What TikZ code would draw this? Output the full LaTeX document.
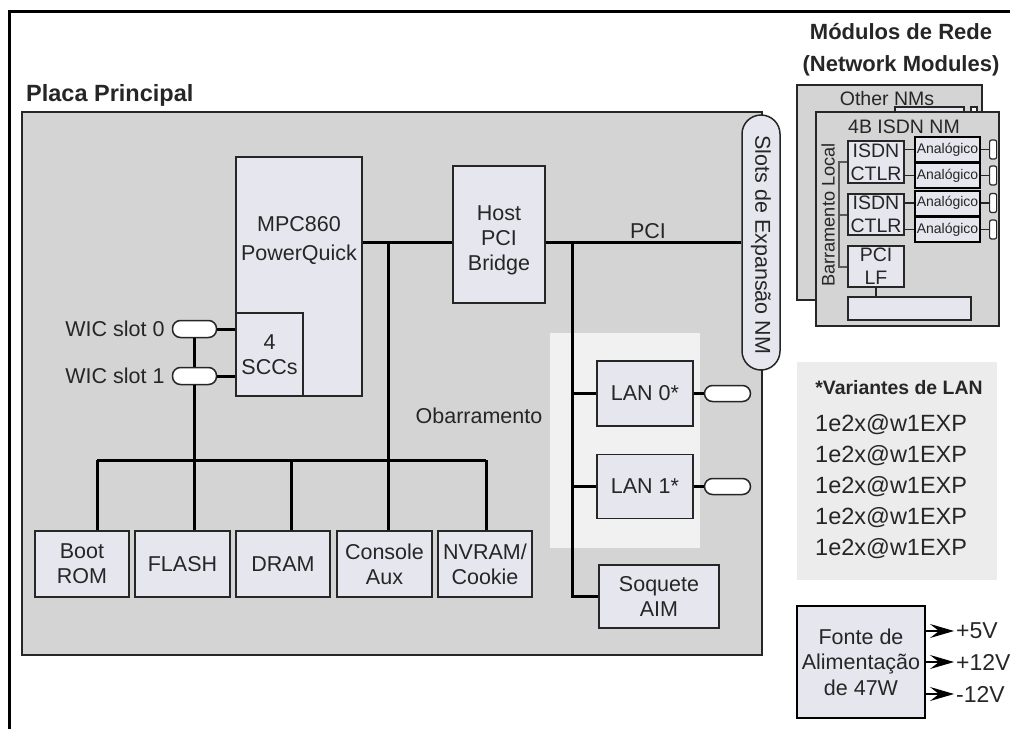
\documentclass[tikz,border=0pt]{standalone}
\usepackage{fontspec}
\setmainfont{Liberation Sans}
\usetikzlibrary{arrows.meta,positioning,calc}
\definecolor{boardGrey}{HTML}{D4D4D4}
\definecolor{chipFill}{HTML}{E6E6EE}
\definecolor{panelGrey}{HTML}{ECECEC}
\definecolor{lanPanel}{HTML}{F1F1F1}
\definecolor{edgeInk}{HTML}{262626}
\definecolor{busGrey}{HTML}{5A5A5A}

\begin{document}
\begin{tikzpicture}[
  x=1pt,y=-1pt,
  font=\fontsize{21.5}{25}\selectfont,text=edgeInk,
  chip/.style={draw=edgeInk,line width=1.5pt,fill=chipFill,inner sep=0pt,align=center},
  txt/.style={inner sep=0pt,align=center},
  bus/.style={line width=3pt,draw=black},
  wire/.style={line width=1.5pt,draw=edgeInk},
  port/.style={draw=edgeInk,line width=1.5pt,fill=white,rounded corners=8pt,
               minimum width=44pt,minimum height=17pt,inner sep=0pt},
  nmtext/.style={font=\fontsize{19.5}{23}\selectfont},
  analog/.style={chip,line width=2pt,draw=black,minimum width=65pt,minimum height=25pt,
                 font=\fontsize{14}{16}\selectfont},
  jack/.style={draw=edgeInk,line width=1.2pt,fill=white,rounded corners=2pt,
               minimum width=7pt,minimum height=19pt,inner sep=0pt},
  volt/.style={txt,anchor=west,font=\fontsize{23}{27}\selectfont},
  feed/.style={-{Stealth[length=24pt,width=14pt,inset=9pt]},line width=1.2pt,black,shorten >=-2pt}
]
\useasboundingbox (0,0) rectangle (1010,729);
% frame
\draw[line width=3pt] (9,729) -- (9,11) -- (1010,11);
\node[txt,anchor=base west,font=\bfseries\fontsize{23.5}{28}\selectfont] (placa) at (26,101) {Placa Principal};
% main board
\draw[draw=edgeInk,line width=1.5pt,fill=boardGrey] (22,112) rectangle (762,655);
\fill[lanPanel] (550,333) rectangle (700,548);
% processor and bridge
\node[chip,minimum width=126pt,minimum height=239pt] (mpc) at (299,276.5) {};
\node[txt,font=\fontsize{21.5}{29}\selectfont] (mpctxt) at (299,240.5) {MPC860\\PowerQuick};
\node[chip,minimum width=67pt,minimum height=83pt] (scc) at (269.5,354.5) {4\\SCCs};
\node[chip,minimum width=92pt,minimum height=137pt] (bridge) at (499,234.5) {};
\node[txt] (bridgetxt) at (499,240) {Host\\PCI\\Bridge};
\node[chip,rounded corners=19pt,minimum width=38pt,minimum height=255pt] (slots) at (761,242.5) {};
\node[txt,rotate=-90] (slotstxt) at (761,245) {Slots de Expansão NM};
% PCI bus
\coordinate (pci) at (0,242);
\draw[bus] (mpc.east|-pci) -- (bridge.west|-pci);
\draw[bus] (bridge.east|-pci) -- (slots.west|-pci);
\node[txt] (pcilbl) at (648,231) {PCI};
% WIC slots
\node[port] (w0) at (194.5,329) {};
\node[port] (w1) at (194.5,376) {};
\node[txt,left=7pt of w0] (w0lbl) {WIC slot 0};
\node[txt,left=7pt of w1] (w1lbl) {WIC slot 1};
\draw[bus] (w0) -- (w0-|scc.west);
\draw[bus] (w1) -- (w1-|scc.west);
% memory row
\node[chip,minimum width=94pt,minimum height=66pt] (boot) at (82,564) {Boot\\ROM};
\node[chip,minimum width=95pt,minimum height=66pt] (flash) at (182.5,564) {FLASH};
\node[chip,minimum width=94pt,minimum height=66pt] (dram) at (283,564) {DRAM};
\node[chip,minimum width=95pt,minimum height=66pt] (console) at (384.5,564) {Console\\Aux};
\node[chip,minimum width=94pt,minimum height=66pt] (nvram) at (485,564) {NVRAM/\\Cookie};
\coordinate (d1) at (97,460);
\coordinate (d3) at (291,460);
\coordinate (d4) at (388,460);
\coordinate (d5) at (486,460);
\draw[bus] (d1) -- (d5);
\draw[bus] (d1) -- (d1|-boot.north);
\draw[bus] (d3) -- (d3|-dram.north);
\draw[bus] (d5) -- (d5|-nvram.north);
\draw[bus] (d4|-pci) -- (d4|-console.north);
\draw[bus] (w0) -- (w1);
\draw[bus] (w1) -- (w1|-flash.north);
\node[txt] (obar) at (479,416) {Obarramento};
% LAN side
\coordinate (lanbus) at (572,242);
\node[chip,minimum width=96pt,minimum height=65pt] (lan0) at (645,393.5) {LAN 0*};
\node[chip,minimum width=96pt,minimum height=64pt] (lan1) at (645,486.5) {LAN 1*};
\node[chip,minimum width=120pt,minimum height=63pt] (aim) at (659,596.5) {Soquete\\AIM};
\draw[bus] (lanbus) |- (aim.west);
\draw[bus] (lanbus|-lan0) -- (lan0.west);
\draw[bus] (lanbus|-lan1) -- (lan1.west);
\node[port,minimum width=46pt,minimum height=16pt,right=10pt of lan0] (p0) {};
\node[port,minimum width=46pt,minimum height=16pt,right=10pt of lan1] (p1) {};
\draw[bus] (lan0) -- (p0);
\draw[bus] (lan1) -- (p1);
% network modules
\node[txt,font=\bfseries\fontsize{22}{32}\selectfont] (nmtitle) at (901,50) {Módulos de Rede\\(Network Modules)};
\draw[wire,fill=boardGrey] (797,85) rectangle (982,300);
\node[txt,nmtext] (othertxt) at (887,99) {Other NMs};
\draw[wire,fill=chipFill] (895,107) rectangle (964,125);
\draw[wire,fill=white] (971,107) rectangle (977,125);
\draw[wire,fill=boardGrey] (816,112) rectangle (999,326);
\node[txt,nmtext] (isdntxt) at (904,127) {4B ISDN NM};
\node[txt,rotate=90,font=\fontsize{18.2}{20}\selectfont] (lbtxt) at (828,215) {Barramento Local};
\node[chip,nmtext,minimum width=56pt,minimum height=42pt] (ctl1) at (876,162) {ISDN\\CTLR};
\node[chip,nmtext,minimum width=56pt,minimum height=41pt] (ctl2) at (876,214.5) {ISDN\\CTLR};
\node[chip,nmtext,minimum width=56pt,minimum height=41pt] (pcilf) at (876,266.5) {PCI\\LF};
\node[chip,minimum width=123pt,minimum height=23pt] (nmconn) at (909.5,308.5) {};
\draw[wire] (pcilf.south) -- (pcilf.south|-nmconn.north);
\coordinate (lb) at (839,0);
\draw[line width=2pt,busGrey] (ctl1.west) -| (lb|-pcilf) -- (pcilf.west);
\draw[line width=2pt,busGrey] (lb|-ctl2) -- (ctl2.west);
\node[analog] (an1) at (947.5,149.5) {Analógico};
\node[analog] (an2) at (947.5,175.5) {Analógico};
\node[analog] (an3) at (947.5,203) {Analógico};
\node[analog] (an4) at (947.5,229.5) {Analógico};
\draw[wire] (ctl1.east|-an1) -- (an1.west);
\draw[wire] (ctl1.east|-an2) -- (an2.west);
\draw[wire] (ctl2.east|-an3) -- (an3.west);
\draw[wire] (ctl2.east|-an4) -- (an4.west);
\foreach \i in {1,...,4} {
  \node[jack,right=8pt of an\i] (j\i) {};
  \draw[wire] (an\i) -- (j\i);
}
% LAN variants
\fill[panelGrey] (797,362) rectangle (997,580);
\node[txt,font=\bfseries\fontsize{19.4}{23}\selectfont] (vartitle) at (899,388) {*Variantes de LAN};
\foreach \k in {0,...,4}
  \node[txt,anchor=west,font=\fontsize{23.5}{28}\selectfont] (var\k) at (815,{425+31*\k}) {1e2x@w1EXP};
% power supply
\node[chip,line width=2pt,draw=black,minimum width=128pt,minimum height=112pt,
      font=\fontsize{21.5}{25.5}\selectfont] (psu) at (861,662) {Fonte de\\Alimentação\\de 47W};
\node[volt] (v5) at (956,631) {+5V};
\node[volt] (v12) at (956,662) {+12V};
\node[volt] (vm12) at (956,694) {-12V};
\draw[feed] (psu.east|-v5) -- ([xshift=-4pt]v5.west);
\draw[feed] (psu.east|-v12) -- ([xshift=-4pt]v12.west);
\draw[feed] (psu.east|-vm12) -- ([xshift=-4pt]vm12.west);
\end{tikzpicture}
\end{document}
